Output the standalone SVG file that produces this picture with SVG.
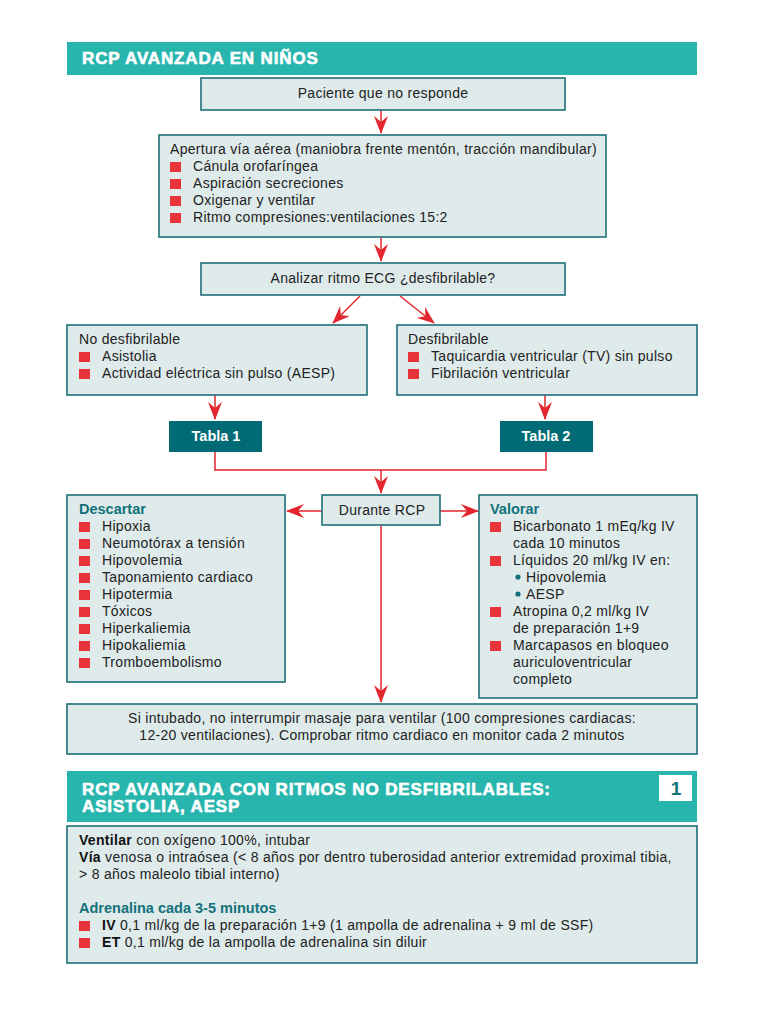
<svg xmlns="http://www.w3.org/2000/svg" width="768" height="1024" viewBox="0 0 768 1024">
<style>
.box{fill:#dfeaea;stroke:#1e6f78;stroke-width:1.6}
.t{font-family:"Liberation Sans",Arial,sans-serif;font-size:14px;letter-spacing:0.3px;fill:#222}
.c{text-anchor:middle}
.h{font-family:"Liberation Sans",Arial,sans-serif;font-size:17px;font-weight:bold;fill:#fff;stroke:#fff;stroke-width:0.6;letter-spacing:0.85px}
.tb{font-family:"Liberation Sans",Arial,sans-serif;font-size:14.5px;font-weight:bold;fill:#fff}
.hd{font-family:"Liberation Sans",Arial,sans-serif;font-size:14.5px;font-weight:bold;fill:#12727c}
.b{font-weight:bold;fill:#111}
.sq{fill:#e8333a}
.ln{fill:none;stroke:#e3262e;stroke-width:1.5}
</style>
<defs>
<marker id="ah" viewBox="0 0 18 14" refX="17" refY="7" markerWidth="18" markerHeight="14" markerUnits="userSpaceOnUse" orient="auto">
<path d="M0,0 L18,7 L0,14 L6,7 z" fill="#e3262e"/>
</marker>
</defs>
<rect width="768" height="1024" fill="#fff"/>

<g id="header1">
<rect x="67" y="42" width="630" height="33" fill="#27b5ad"/>
<text class="h" x="82" y="64">RCP AVANZADA EN NIÑOS</text>
</g>

<g id="connectors">
<path class="ln" d="M381,110 V133" marker-end="url(#ah)"/>
<path class="ln" d="M381,237 V261" marker-end="url(#ah)"/>
<path class="ln" d="M360,296 L333,323" marker-end="url(#ah)"/>
<path class="ln" d="M400,296 L434,323" marker-end="url(#ah)"/>
<path class="ln" d="M215,395 V419" marker-end="url(#ah)"/>
<path class="ln" d="M545,395 V419" marker-end="url(#ah)"/>
<path class="ln" d="M215,452 V470 H546 V452"/>
<path class="ln" d="M381,470 V493" marker-end="url(#ah)"/>
<path class="ln" d="M322,511 H287" marker-end="url(#ah)"/>
<path class="ln" d="M440,511 H478" marker-end="url(#ah)"/>
<path class="ln" d="M381,525 V702" marker-end="url(#ah)"/>
</g>

<g id="n-paciente">
<rect class="box" x="201" y="78" width="364" height="32"/>
<text class="t c" x="383" y="98">Paciente que no responde</text>
</g>

<g id="n-apertura">
<rect class="box" x="159" y="135" width="447" height="102"/>
<text class="t" x="170" y="154">Apertura vía aérea (maniobra frente mentón, tracción mandibular)</text>
<rect class="sq" x="170" y="162" width="11" height="10"/><text class="t" x="193" y="171">Cánula orofaríngea</text>
<rect class="sq" x="170" y="179" width="11" height="10"/><text class="t" x="193" y="188">Aspiración secreciones</text>
<rect class="sq" x="170" y="196" width="11" height="10"/><text class="t" x="193" y="205">Oxigenar y ventilar</text>
<rect class="sq" x="170" y="213" width="11" height="10"/><text class="t" x="193" y="222">Ritmo compresiones:ventilaciones 15:2</text>
</g>

<g id="n-analizar">
<rect class="box" x="201" y="263" width="364" height="32"/>
<text class="t c" x="383" y="283">Analizar ritmo ECG ¿desfibrilable?</text>
</g>

<g id="n-nodesf">
<rect class="box" x="67" y="325" width="300" height="70"/>
<text class="t" x="79" y="344">No desfibrilable</text>
<rect class="sq" x="79" y="352" width="11" height="10"/><text class="t" x="102" y="361">Asistolia</text>
<rect class="sq" x="79" y="369" width="11" height="10"/><text class="t" x="102" y="378">Actividad eléctrica sin pulso (AESP)</text>
</g>

<g id="n-desf">
<rect class="box" x="397" y="325" width="300" height="70"/>
<text class="t" x="408" y="344">Desfibrilable</text>
<rect class="sq" x="408" y="352" width="11" height="10"/><text class="t" x="431" y="361">Taquicardia ventricular (TV) sin pulso</text>
<rect class="sq" x="408" y="369" width="11" height="10"/><text class="t" x="431" y="378">Fibrilación ventricular</text>
</g>

<g id="n-tabla1">
<rect x="169" y="421" width="93" height="31" fill="#006b74"/>
<text class="tb c" x="216" y="441">Tabla 1</text>
</g>

<g id="n-tabla2">
<rect x="500" y="421" width="93" height="31" fill="#006b74"/>
<text class="tb c" x="546" y="441">Tabla 2</text>
</g>

<g id="n-durante">
<rect class="box" x="322" y="495" width="118" height="30"/>
<text class="t c" x="382" y="515">Durante RCP</text>
</g>

<g id="n-descartar">
<rect class="box" x="67" y="495" width="218" height="187"/>
<text class="hd" x="79" y="514">Descartar</text>
<rect class="sq" x="79" y="522" width="11" height="10"/><text class="t" x="102" y="531">Hipoxia</text>
<rect class="sq" x="79" y="539" width="11" height="10"/><text class="t" x="102" y="548">Neumotórax a tensión</text>
<rect class="sq" x="79" y="556" width="11" height="10"/><text class="t" x="102" y="565">Hipovolemia</text>
<rect class="sq" x="79" y="573" width="11" height="10"/><text class="t" x="102" y="582">Taponamiento cardiaco</text>
<rect class="sq" x="79" y="590" width="11" height="10"/><text class="t" x="102" y="599">Hipotermia</text>
<rect class="sq" x="79" y="607" width="11" height="10"/><text class="t" x="102" y="616">Tóxicos</text>
<rect class="sq" x="79" y="624" width="11" height="10"/><text class="t" x="102" y="633">Hiperkaliemia</text>
<rect class="sq" x="79" y="641" width="11" height="10"/><text class="t" x="102" y="650">Hipokaliemia</text>
<rect class="sq" x="79" y="658" width="11" height="10"/><text class="t" x="102" y="667">Tromboembolismo</text>
</g>

<g id="n-valorar">
<rect class="box" x="479" y="495" width="218" height="203"/>
<text class="hd" x="490" y="514">Valorar</text>
<rect class="sq" x="490" y="522" width="11" height="10"/><text class="t" x="513" y="531">Bicarbonato 1 mEq/kg IV</text>
<text class="t" x="513" y="548">cada 10 minutos</text>
<rect class="sq" x="490" y="556" width="11" height="10"/><text class="t" x="513" y="565">Líquidos 20 ml/kg IV en:</text>
<circle cx="518" cy="577" r="2.6" fill="#12727c"/><text class="t" x="526" y="582">Hipovolemia</text>
<circle cx="518" cy="594" r="2.6" fill="#12727c"/><text class="t" x="526" y="599">AESP</text>
<rect class="sq" x="490" y="607" width="11" height="10"/><text class="t" x="513" y="616">Atropina 0,2 ml/kg IV</text>
<text class="t" x="513" y="633">de preparación 1+9</text>
<rect class="sq" x="490" y="641" width="11" height="10"/><text class="t" x="513" y="650">Marcapasos en bloqueo</text>
<text class="t" x="513" y="667">auriculoventricular</text>
<text class="t" x="513" y="684">completo</text>
</g>

<g id="n-intubado">
<rect class="box" x="67" y="704" width="630" height="50"/>
<text class="t c" x="382" y="723">Si intubado, no interrumpir masaje para ventilar (100 compresiones cardiacas:</text>
<text class="t c" x="382" y="740">12-20 ventilaciones). Comprobar ritmo cardiaco en monitor cada 2 minutos</text>
</g>

<g id="header2">
<rect x="67" y="771" width="630" height="51" fill="#27b5ad"/>
<text class="h" x="82" y="795">RCP AVANZADA CON RITMOS NO DESFIBRILABLES:</text>
<text class="h" x="82" y="812">ASISTOLIA, AESP</text>
<rect x="659" y="775" width="33" height="26" fill="#fff"/>
<text x="676" y="795" text-anchor="middle" font-family="Liberation Sans,Arial,sans-serif" font-size="19" font-weight="bold" fill="#12727c">1</text>
</g>

<g id="n-tabla1-body">
<rect class="box" x="67" y="826" width="630" height="137"/>
<text class="t" x="79" y="845"><tspan class="b">Ventilar</tspan> con oxígeno 100%, intubar</text>
<text class="t" x="79" y="862"><tspan class="b">Vía</tspan> venosa o intraósea (&lt; 8 años por dentro tuberosidad anterior extremidad proximal tibia,</text>
<text class="t" x="79" y="879">&gt; 8 años maleolo tibial interno)</text>
<text class="hd" x="79" y="913">Adrenalina cada 3-5 minutos</text>
<rect class="sq" x="79" y="921" width="11" height="10"/><text class="t" x="102" y="930"><tspan class="b">IV</tspan> 0,1 ml/kg de la preparación 1+9 (1 ampolla de adrenalina + 9 ml de SSF)</text>
<rect class="sq" x="79" y="938" width="11" height="10"/><text class="t" x="102" y="947"><tspan class="b">ET</tspan> 0,1 ml/kg de la ampolla de adrenalina sin diluir</text>
</g>
</svg>
